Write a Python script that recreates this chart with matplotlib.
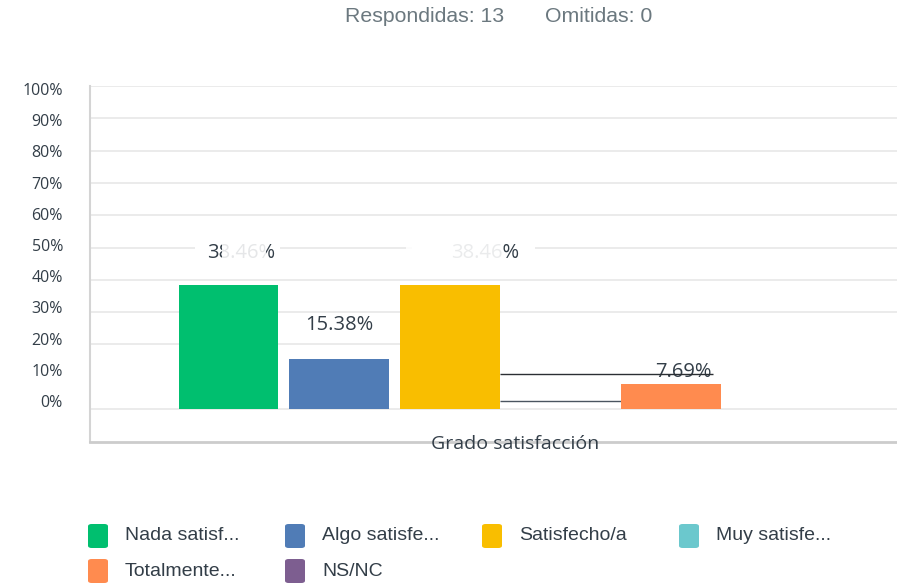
import matplotlib
matplotlib.use("Agg")
import matplotlib.pyplot as plt
from matplotlib.patches import FancyBboxPatch, Rectangle
from matplotlib.transforms import ScaledTranslation
import numpy as np

# datos de la encuesta
categorias = ["Nada satisf...", "Algo satisfe...", "Satisfecho/a", "Muy satisfe...",
              "Totalmente...", "NS/NC"]
porcentajes = [38.46, 15.38, 38.46, 0.0, 7.69, 0.0]
etiquetas = ["38.46%", "15.38%", "38.46%", "", "7.69%", ""]
colores = ["#00BF6F", "#507CB6", "#F9BE00", "#6BC8CD", "#FF8B4F", "#7D5E90"]
ticks_y = [0, 10, 20, 30, 40, 50, 60, 70, 80, 90, 100]
respondidas = 13
omitidas = 0

TXT = "#333e48"
GRIS = "#6b787f"
ANCHO = 0.9

fig = plt.figure(figsize=(8.97, 5.86), dpi=100)
ax = fig.add_axes([90 / 897, 1 - 442 / 586, 1 - 90 / 897, (442 - 86) / 586])

x = np.arange(len(categorias))
ax.set_xlim(-1.251, 6.04)
ax.set_ylim(-10.2, 100)

# rejilla (la de 10% no aparece, la de 20% solo a la izquierda)
for t in ticks_y:
    if t == 10:
        continue
    xmax = 0.42 if t == 20 else 1.0
    ax.axhline(t, xmin=0, xmax=xmax, color="#ebebeb", lw=1.4, zorder=0)

barras = ax.bar(x, porcentajes, width=ANCHO, color=colores, zorder=2)

# etiquetas de valor
desplaz = [0.11, 0, 0.32, 0, 0.11, 0]
alto = [48.3, 26, 48.3, 0, 11.4, 0]
for i, txt in enumerate(etiquetas):
    if not txt:
        continue
    ax.text(x[i] + desplaz[i], alto[i], txt,
            ha="center", va="center", fontsize=14.5, color=TXT,
            family=["Open Sans", "DejaVu Sans"], zorder=4)

# restos de la animacion sobre las etiquetas 38.46%
for x0, x1 in [(-0.30, 0.47), (1.66, 2.77)]:
    ax.add_patch(Rectangle((x0, 45.6), x1 - x0, 5.4, facecolor="white",
                           edgecolor="none", zorder=3))
for x0, x1, a in [(-0.30, -0.21, 0.9), (-0.06, 0.34, 0.88), (1.60, 2.48, 0.9)]:
    ax.add_patch(Rectangle((x0, 45.0), x1 - x0, 6.6, facecolor="white", alpha=a,
                           edgecolor="none", zorder=5))

# lineas sueltas junto a la barra naranja
x_ini = x[2] + ANCHO / 2
ax.hlines(10.85, x_ini, x[4] + 0.377, color="#2b2f33", lw=1.0, zorder=5)
ax.hlines(2.5, x_ini, x[4] - ANCHO / 2, color="#4a5560", lw=1.0, zorder=1)

ax.spines["top"].set_visible(False)
ax.spines["right"].set_visible(False)
ax.spines["left"].set_color("#d4d4d4")
ax.spines["left"].set_linewidth(1.5)
ax.spines["bottom"].set_color("#cccccc")
ax.spines["bottom"].set_linewidth(2)

ax.set_xticks([])
ax.set_yticks(ticks_y)
ax.set_yticklabels([f"{t}%" for t in ticks_y], fontsize=11.5,
                   family=["Open Sans", "DejaVu Sans"], color=TXT)
ax.tick_params(axis="y", length=0, pad=19.5)
# las etiquetas del eje no caen justo sobre la rejilla
for t, lab in zip(ticks_y, ax.get_yticklabels()):
    dy = (-3 + (100 - t) * 0.11) / 100
    lab.set_transform(lab.get_transform() + ScaledTranslation(0, dy, fig.dpi_scale_trans))

fig.text(515 / 897, 1 - 444 / 586, "Grado satisfacción", ha="center", va="center",
         fontsize=14, color=TXT, family=["Open Sans", "DejaVu Sans"])

# cabecera
fig.text(345 / 897, 1 - 17 / 586, f"Respondidas: {respondidas}", ha="left",
         va="center", fontsize=15.3, color=GRIS, family=["Liberation Sans"])
fig.text(545 / 897, 1 - 17 / 586, f"Omitidas: {omitidas}", ha="left",
         va="center", fontsize=15.3, color=GRIS, family=["Liberation Sans"])

# leyenda
for i, (nom, c) in enumerate(zip(categorias, colores)):
    fila, colm = divmod(i, 4)
    px = 88 + colm * 197
    py = 536 + fila * 35
    caja = FancyBboxPatch((px / 897, 1 - (py + 12) / 586), 20 / 897, 24 / 586,
                          boxstyle="round,pad=0,rounding_size=0.004",
                          transform=fig.transFigure, facecolor=c, edgecolor="none")
    fig.patches.append(caja)
    fig.text((px + 37) / 897, 1 - py / 586, nom, ha="left", va="center",
             fontsize=14, color=TXT, family=["Liberation Sans"])

fig.savefig("out.png", dpi=100)
